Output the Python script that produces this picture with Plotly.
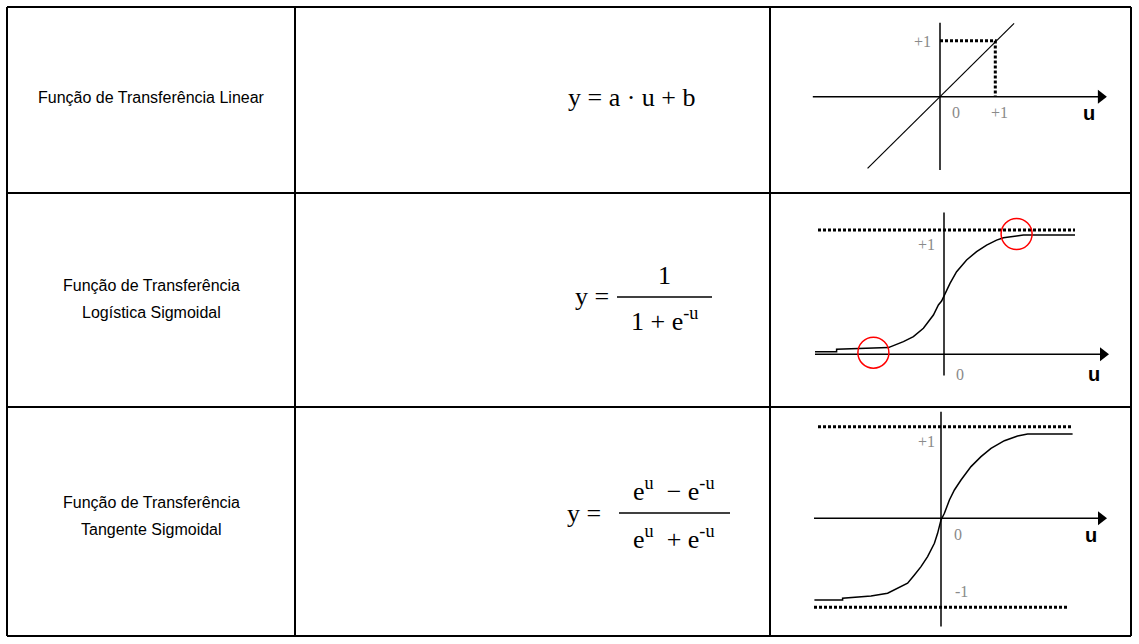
import plotly.graph_objects as go

W, H = 1139, 644

# --- table content ---
label_lines = [
    ["Função de Transferência Linear"],
    ["Função de Transferência", "Logística Sigmoidal"],
    ["Função de Transferência", "Tangente Sigmoidal"],
]
formula_linear = "y = a · u + b"
formula_log_num = "1"
formula_log_den = "1 + e<sup>-u</sup>"
formula_tanh_num = "e<sup>u</sup>  − e<sup>-u</sup>"
formula_tanh_den = "e<sup>u</sup>  + e<sup>-u</sup>"
formula_lhs = "y ="

# --- linear plot ---
lin_u = [-1.31, 1.34]
lin_y = [-1.28, 1.31]
lin_guide_u = [0, 1, 1]
lin_guide_y = [1, 1, 0]
lin_labels = ["+1", "0", "+1"]

# --- logistic plot ---
log_u = [-6.45, -5.37, -5.37, -2.78, -2.53, -2.03, -1.53, -1.03, -0.53, -0.28, -0.12,
         0.05, 0.3, 0.63, 1.13, 1.63, 2.13, 2.63, 2.97, 3.63, 3.97, 6.55]
log_y = [0.021, 0.021, 0.04, 0.054, 0.07, 0.102, 0.142, 0.209, 0.316, 0.397, 0.429,
         0.491, 0.571, 0.665, 0.759, 0.826, 0.879, 0.919, 0.938, 0.952, 0.96, 0.96]
log_asym = [1]
log_circle_u = [-3.53, 3.63]
log_circle_y = [0.013, 0.968]
log_labels = ["+1", "0"]

# --- tangent plot ---
tanh_u = [-6.33, -4.92, -4.92, -3.5, -2.67, -2.17, -1.67, -1.33, -1.0, -0.67, -0.33, -0.17,
          0.0, 0.17, 0.42, 0.67, 1.0, 1.5, 2.0, 2.5, 3.17, 3.83, 4.33, 6.58]
tanh_y = [-0.897, -0.897, -0.879, -0.853, -0.824, -0.769, -0.714, -0.623, -0.531, -0.421,
          -0.275, -0.165, -0.018, 0.055, 0.201, 0.311, 0.421, 0.568, 0.678, 0.769, 0.853,
          0.905, 0.927, 0.927]
tanh_asym = [1.007, -0.978]
tanh_labels = ["+1", "0", "-1"]
axis_name = "<b>u</b>"


def px(p):
    return p / W


def py(p):
    return 1 - p / H


fig = go.Figure()

# placement of the three small plots: origin (px), px per unit, box
boxes = [
    dict(ox=940, oy=96.7, sx=55.3, sy=56, top=10, bottom=190),
    dict(ox=944, oy=354.3, sx=20, sy=124.3, top=196, bottom=404),
    dict(ox=941, oy=518.3, sx=20, sy=91, top=410, bottom=634),
]
left, right = 775, 1128
axes = {}
for i, b in enumerate(boxes):
    sfx = "" if i == 0 else str(i + 1)
    axes["xaxis" + sfx] = dict(domain=[px(left), px(right)],
                              range=[(left - b["ox"]) / b["sx"], (right - b["ox"]) / b["sx"]],
                              visible=False, anchor="y" + sfx, fixedrange=True)
    axes["yaxis" + sfx] = dict(domain=[py(b["bottom"]), py(b["top"])],
                              range=[(b["oy"] - b["bottom"]) / b["sy"], (b["oy"] - b["top"]) / b["sy"]],
                              visible=False, anchor="x" + sfx, fixedrange=True)

black = dict(color="black", width=1.5)
dots = dict(color="black", width=3, dash="3px,2px")


def add(x, y, k, line=None, **kw):
    xa = "x" if k == 0 else "x%d" % (k + 1)
    ya = "y" if k == 0 else "y%d" % (k + 1)
    fig.add_trace(go.Scatter(x=x, y=y, mode=kw.pop("mode", "lines"), line=line,
                             xaxis=xa, yaxis=ya, hoverinfo="skip", cliponaxis=False, **kw))


def arrow_axes(k, u0, u1, y0, y1, sx):
    add([u0, u1 - 5 / sx], [0, 0], k, black)
    add([0, 0], [y0, y1], k, black)
    add([u1 - 5 / sx], [0], k, mode="markers",
        marker=dict(symbol="triangle-right", size=12, color="black", line=dict(width=0)))


# linear
arrow_axes(0, -2.3, 3.0, -1.31, 1.32, 55.3)
add(lin_u, lin_y, 0, dict(color="black", width=1.2))
add(lin_guide_u, lin_guide_y, 0, dots)

# logistic
arrow_axes(1, -6.45, 8.2, -0.17, 1.14, 20)
add([-6.3, 6.55], [log_asym[0]] * 2, 1, dots)
add(log_u, log_y, 1, dict(color="black", width=1.5))
add(log_circle_u, log_circle_y, 1, mode="markers",
    marker=dict(symbol="circle-open", size=31, color="red", line=dict(width=1.5, color="red")))

# tangent
arrow_axes(2, -6.35, 8.25, -1.19, 1.17, 20)
add([-6.15, 6.6], [tanh_asym[0]] * 2, 2, dots)
add([-6.35, 6.3], [tanh_asym[1]] * 2, 2, dots)
add(tanh_u, tanh_y, 2, dict(color="black", width=1.5))

ann = []
gray = dict(family="Liberation Serif", size=16, color="#8a8a8a")
bold = dict(family="Liberation Sans", size=20, color="black")


def lab(k, x, y, t, f):
    xa = "x" if k == 0 else "x%d" % (k + 1)
    ya = "y" if k == 0 else "y%d" % (k + 1)
    ann.append(dict(xref=xa, yref=ya, x=x, y=y, text=t, showarrow=False, font=f,
                    xanchor="center", yanchor="middle"))


lab(0, -0.32, 0.98, lin_labels[0], gray)
lab(0, 0.29, -0.29, lin_labels[1], gray)
lab(0, 1.07, -0.29, lin_labels[2], gray)
lab(0, 2.7, -0.29, axis_name, bold)
lab(1, -0.87, 0.88, log_labels[0], gray)
lab(1, 0.8, -0.16, log_labels[1], gray)
lab(1, 7.5, -0.16, axis_name, bold)
lab(2, -0.75, 0.84, tanh_labels[0], gray)
lab(2, 0.83, -0.18, tanh_labels[1], gray)
lab(2, 1.0, -0.8, tanh_labels[2], gray)
lab(2, 7.5, -0.18, axis_name, bold)

# column 1 text
sans = dict(family="Liberation Sans", size=16, color="black")
row_y = [[97], [285, 312], [502, 529]]
for lines, ys in zip(label_lines, row_y):
    for t, y in zip(lines, ys):
        ann.append(dict(xref="paper", yref="paper", x=px(151), y=py(y), text=t,
                        showarrow=False, font=sans, xanchor="center", yanchor="middle"))

# formulas
serif = dict(family="Liberation Serif", size=26, color="black")


def ftxt(x, y, t, xanchor="center"):
    ann.append(dict(xref="paper", yref="paper", x=px(x), y=py(y), text=t,
                    showarrow=False, font=serif, xanchor=xanchor, yanchor="middle"))


ftxt(632, 97, formula_linear)
ftxt(611, 296, formula_lhs, "right")
ftxt(664, 275, formula_log_num)
ftxt(664, 319, formula_log_den)
ftxt(603, 513, formula_lhs, "right")
ftxt(674, 489, formula_tanh_num)
ftxt(674, 537, formula_tanh_den)

shapes = [
    dict(type="line", xref="paper", yref="paper", x0=px(617), x1=px(712), y0=py(297), y1=py(297),
         line=dict(color="black", width=1.3)),
    dict(type="line", xref="paper", yref="paper", x0=px(619), x1=px(730), y0=py(513), y1=py(513),
         line=dict(color="black", width=1.3)),
]
# table grid
grid = dict(color="black", width=2)
for y in [7, 193, 407, 636]:
    shapes.append(dict(type="line", xref="paper", yref="paper", x0=px(7), x1=px(1131),
                       y0=py(y), y1=py(y), line=grid))
for x in [7, 295, 770, 1131]:
    shapes.append(dict(type="line", xref="paper", yref="paper", x0=px(x), x1=px(x),
                       y0=py(7), y1=py(636), line=grid))

fig.update_layout(width=W, height=H, margin=dict(l=0, r=0, t=0, b=0),
                  paper_bgcolor="white", plot_bgcolor="rgba(0,0,0,0)",
                  showlegend=False, annotations=ann, shapes=shapes, **axes)
fig.write_html("out.html", config={"displayModeBar": False},
               post_script="document.body.style.margin='0';")
